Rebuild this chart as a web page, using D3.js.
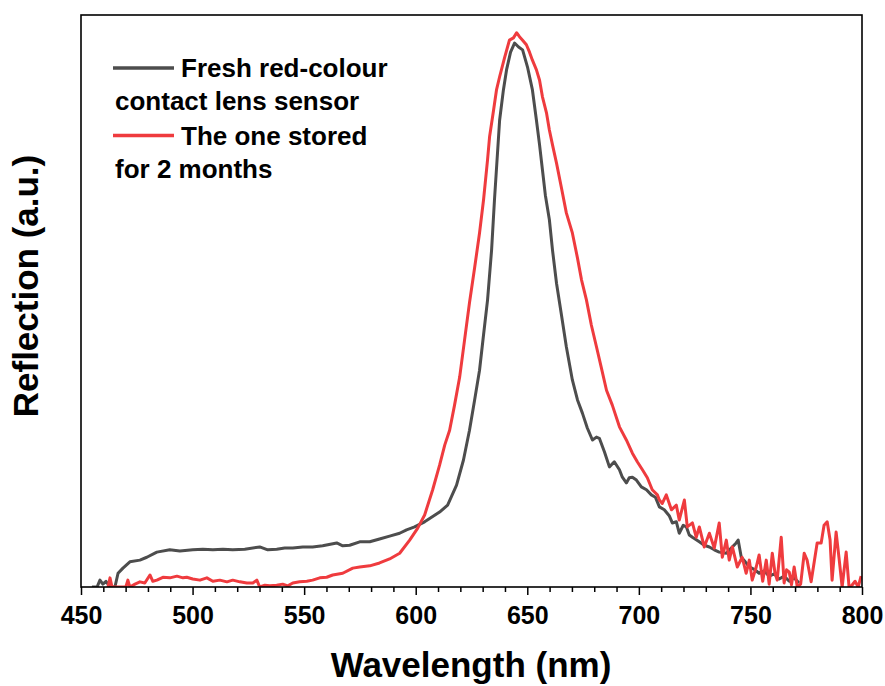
<!DOCTYPE html>
<html>
<head>
<meta charset="utf-8">
<script src="https://cdn.jsdelivr.net/npm/d3@7"></script>
<style>
  body { margin: 0; background: #fff; }
  text { font-family: "Liberation Sans", Arial, sans-serif; font-weight: bold; }
</style>
</head>
<body>
<svg width="885" height="686"></svg>
<script>
// wavelength (nm), reflection (a.u.)
var freshSeries = [
  [454.9,0],[457.2,0],[458.5,1.2],[459.8,0.5],[461.2,1.0],[463,0],[465.2,0],[466.6,2.4],[468.8,3.3],
  [471.9,4.4],[476.4,4.7],[479.5,5.2],[484,6.1],[489.8,6.5],[494.3,6.3],[500.1,6.5],[504.6,6.6],
  [509.1,6.5],[513.6,6.6],[518,6.5],[523.4,6.6],[530.1,7.0],[533.7,6.5],[537.7,6.6],[541.3,6.8],
  [544.9,6.8],[549.4,7.0],[553.8,7.0],[558.3,7.2],[564.6,7.7],[567.3,7.2],[570.4,7.3],[574.9,7.9],
  [579.4,7.9],[583.8,8.4],[588.3,8.9],[592.8,9.4],[595.9,10.0],[599.5,10.5],[604,11.4],[610.7,13.1],
  [614.3,14.3],[618.3,17.8],[621.4,22.2],[624.1,27.4],[626.4,32.7],[628.6,37.9],[630.4,44.1],
  [632.2,50.2],[634,58.9],[635.3,67.7],[637.6,81.6],[639.3,86.9],[640.7,90.4],[642.5,93.5],
  [644.3,95.1],[646.1,94.4],[647.9,93.9],[650.1,90.9],[652.3,86.9],[654.1,81.6],[655.5,77.3],
  [656.8,72.9],[658.1,68.5],[659.9,64.2],[661.3,58.9],[663.1,53.1],[665.3,47.6],[667.5,42],
  [670.2,36.2],[672.5,32.7],[674.7,30.4],[676.9,27.8],[679.2,25.7],[681,26.2],[682.3,26],
  [684.6,23.6],[686.8,21],[689,21.9],[691.3,20.5],[692.6,19.2],[694.4,18.2],[695.7,19.1],
  [697.1,19.2],[698.9,18.7],[701.1,17.5],[703.4,17],[705.6,16.1],[707.4,15.7],[709.2,14],
  [711.4,13.5],[713.7,12.4],[715,11.2],[716.8,11.4],[718.1,9.4],[719.9,10.8],[721.3,10.5],
  [722.6,9.1],[724,8.7],[727.1,7.9],[729.3,7.3],[731.6,7.0],[733.8,6.5],[736,6.1],[739.2,5.9],
  [741.4,6.8],[743.6,7.7],[744.5,8.2],[745.9,5.2],[747.7,4.4],[749.5,3.5],[751.7,3.1],[753.9,2.4],
  [756.2,2.8],[758.4,1.9],[760.7,2.3],[762.9,1.4],[765.1,1.9],[767.4,1.0],[769.6,1.6],[771.8,0.7]
];

var storedSeries = [
  [462.1,0],[463,1.6],[463.9,0],[470.1,0],[471,1.2],[471.9,0],[474.2,0.5],[476.4,0.9],[478.6,0.7],
  [480.9,2.1],[482.2,1.0],[484,1.2],[486.7,1.7],[489.8,1.6],[493,1.9],[495.7,1.6],[497.4,1.7],
  [500.1,1.4],[503.3,1.2],[506.4,1.6],[509.1,1.0],[512.2,1.2],[515.4,0.9],[518,1.2],[521.2,0.9],
  [524.3,0.7],[527,0.7],[528.8,1.2],[530.1,0],[532.4,0.3],[534.6,0.2],[537.7,0.3],[540.4,0.5],
  [542.7,0.2],[544.9,0.7],[548,0.9],[551.2,1.0],[553.8,1.2],[557,1.6],[560.1,1.7],[562.8,2.1],
  [567.3,2.4],[571.8,3.3],[574.9,3.5],[579.4,3.7],[583.8,4.2],[588.3,4.9],[592.8,5.9],[597.3,8.2],
  [600.9,10.3],[604,12.6],[607.6,17],[610.7,21.3],[613,24.8],[615.2,27.4],[617.4,31.8],[619.7,36.7],
  [621.9,43.2],[624.1,49.7],[626.4,55.8],[628.6,61.9],[630.4,67.7],[632.2,74.7],[633.1,78.7],
  [634.9,83.4],[636.2,86.9],[637.6,89.2],[639.8,92.5],[642,95.6],[643.8,96],[645.2,96.9],
  [646.5,96.2],[647.9,95.6],[649.6,94.8],[651,93.5],[652.3,92.1],[654.1,90.4],[655.5,88.6],
  [656.8,85.7],[658.6,82.9],[659.9,79.9],[661.3,77.3],[663.1,74.1],[665.3,69.8],[667.5,65.4],
  [670.2,61.9],[672.5,57.5],[674.3,53.7],[676.5,50.2],[678.7,45.8],[681,42],[683.2,38.3],
  [685.5,34.4],[688.1,31.8],[691.3,28],[694.4,25.7],[697.1,23.4],[699.3,21.9],[701.6,20.5],
  [703.8,19.1],[706,17],[708.3,16.1],[709.2,15.2],[710.5,14.6],[712.3,16.1],[714.6,13.5],
  [716.8,14.3],[718.1,11.7],[720.4,15.2],[721.7,10.5],[724,11.2],[725.7,8.7],[727.1,10.5],
  [729.3,7.0],[731.6,9.4],[733.8,6.8],[736,11.2],[737.4,5.2],[739.2,8.2],[740.5,4.7],[741.9,7.0],
  [744.1,3.5],[746.3,5.2],[748.1,2.4],[749.5,4.7],[750.8,1.2],[752.6,3.5],[753.9,5.6],[755.5,1.0],
  [757.1,4.7],[758.4,0.5],[759.8,5.9],[761,2.5],[762,1.2],[763.8,8.7],[765.1,0.7],[766.2,3.0],
  [767.4,2.6],[768.4,0.4],[769.6,3.5],[771,0],[772.5,0.5],[774.1,5.9],[775.4,4.7],[777.2,0.9],
  [778.6,4.4],[779.9,7.7],[781.7,7.7],[783,10.8],[784.4,11.4],[785.7,8.2],[786.6,1.2],[788.4,9.6],
  [789.7,5.1],[791.1,0],[792.9,6.1],[794.2,0],[795.5,0.3],[796.9,1.0],[798.3,0],[799.6,1.9]
];

var xTicks = [450, 500, 550, 600, 650, 700, 750, 800];
var xMinorTicks = [460, 470, 480, 490, 510, 520, 530, 540, 560, 570, 580, 590,
                   610, 620, 630, 640, 660, 670, 680, 690, 710, 720, 730, 740,
                   760, 770, 780, 790];
var seriesNames = [["Fresh red-colour", "contact lens sensor"], ["The one stored", "for 2 months"]];
var seriesColors = ["#4d4d4d", "#ef3b3e"];

var svg = d3.select("svg"),
    margin = { top: 15, right: 23, bottom: 99, left: 81 },
    width = +svg.attr("width") - margin.left - margin.right,
    height = +svg.attr("height") - margin.top - margin.bottom;

var x = d3.scaleLinear().domain([450, 800]).range([0, width]);
var y = d3.scaleLinear().domain([0, 100]).range([height, 0]);

svg.append("defs").append("clipPath")
    .attr("id", "clip")
    .append("rect")
    .attr("width", width)
    .attr("height", height);

var g = svg.append("g")
    .attr("transform", "translate(" + margin.left + "," + margin.top + ")");

var line = d3.line()
    .x(function (d) { return x(d[0]); })
    .y(function (d) { return y(d[1]); });

var plot = g.append("g").attr("clip-path", "url(#clip)");

[freshSeries, storedSeries].forEach(function (s, i) {
    plot.append("path")
        .datum(s)
        .attr("fill", "none")
        .attr("stroke", seriesColors[i])
        .attr("stroke-width", 3)
        .attr("stroke-linejoin", "round")
        .attr("d", line);
});

// minor ticks
g.append("g")
    .attr("transform", "translate(0," + height + ")")
    .call(d3.axisBottom(x).tickValues(xMinorTicks).tickSize(5).tickFormat(""))
    .call(function (a) { a.select(".domain").remove(); })
    .selectAll("line").attr("stroke-width", 1.5);

var xAxis = g.append("g")
    .attr("transform", "translate(0," + height + ")")
    .call(d3.axisBottom(x).tickValues(xTicks).tickSize(8).tickPadding(11).tickFormat(d3.format("d")));
xAxis.select(".domain").remove();
xAxis.selectAll("line").attr("stroke-width", 1.5);
xAxis.selectAll("text")
    .attr("font-size", 25)
    .attr("fill", "#000");

// frame
g.append("rect")
    .attr("width", width)
    .attr("height", height)
    .attr("fill", "none")
    .attr("stroke", "#000")
    .attr("stroke-width", 1.6);

svg.append("text")
    .attr("x", 471)
    .attr("y", 677)
    .attr("text-anchor", "middle")
    .attr("font-size", 35)
    .text("Wavelength (nm)");

svg.append("text")
    .attr("transform", "translate(38,286)rotate(-90)")
    .attr("text-anchor", "middle")
    .attr("font-size", 35)
    .text("Reflection (a.u.)");

// legend
var legend = g.append("g").attr("transform", "translate(32,53)");
seriesNames.forEach(function (lines, i) {
    var row = legend.append("g").attr("transform", "translate(0," + (i * 67.5) + ")");
    row.append("line")
        .attr("x1", 0).attr("x2", 61)
        .attr("stroke", seriesColors[i])
        .attr("stroke-width", 3.5);
    row.append("text")
        .attr("x", 68).attr("y", 9)
        .attr("font-size", 26)
        .text(lines[0]);
    row.append("text")
        .attr("x", 2).attr("y", 42)
        .attr("font-size", 26)
        .text(lines[1]);
});
</script>
</body>
</html>
